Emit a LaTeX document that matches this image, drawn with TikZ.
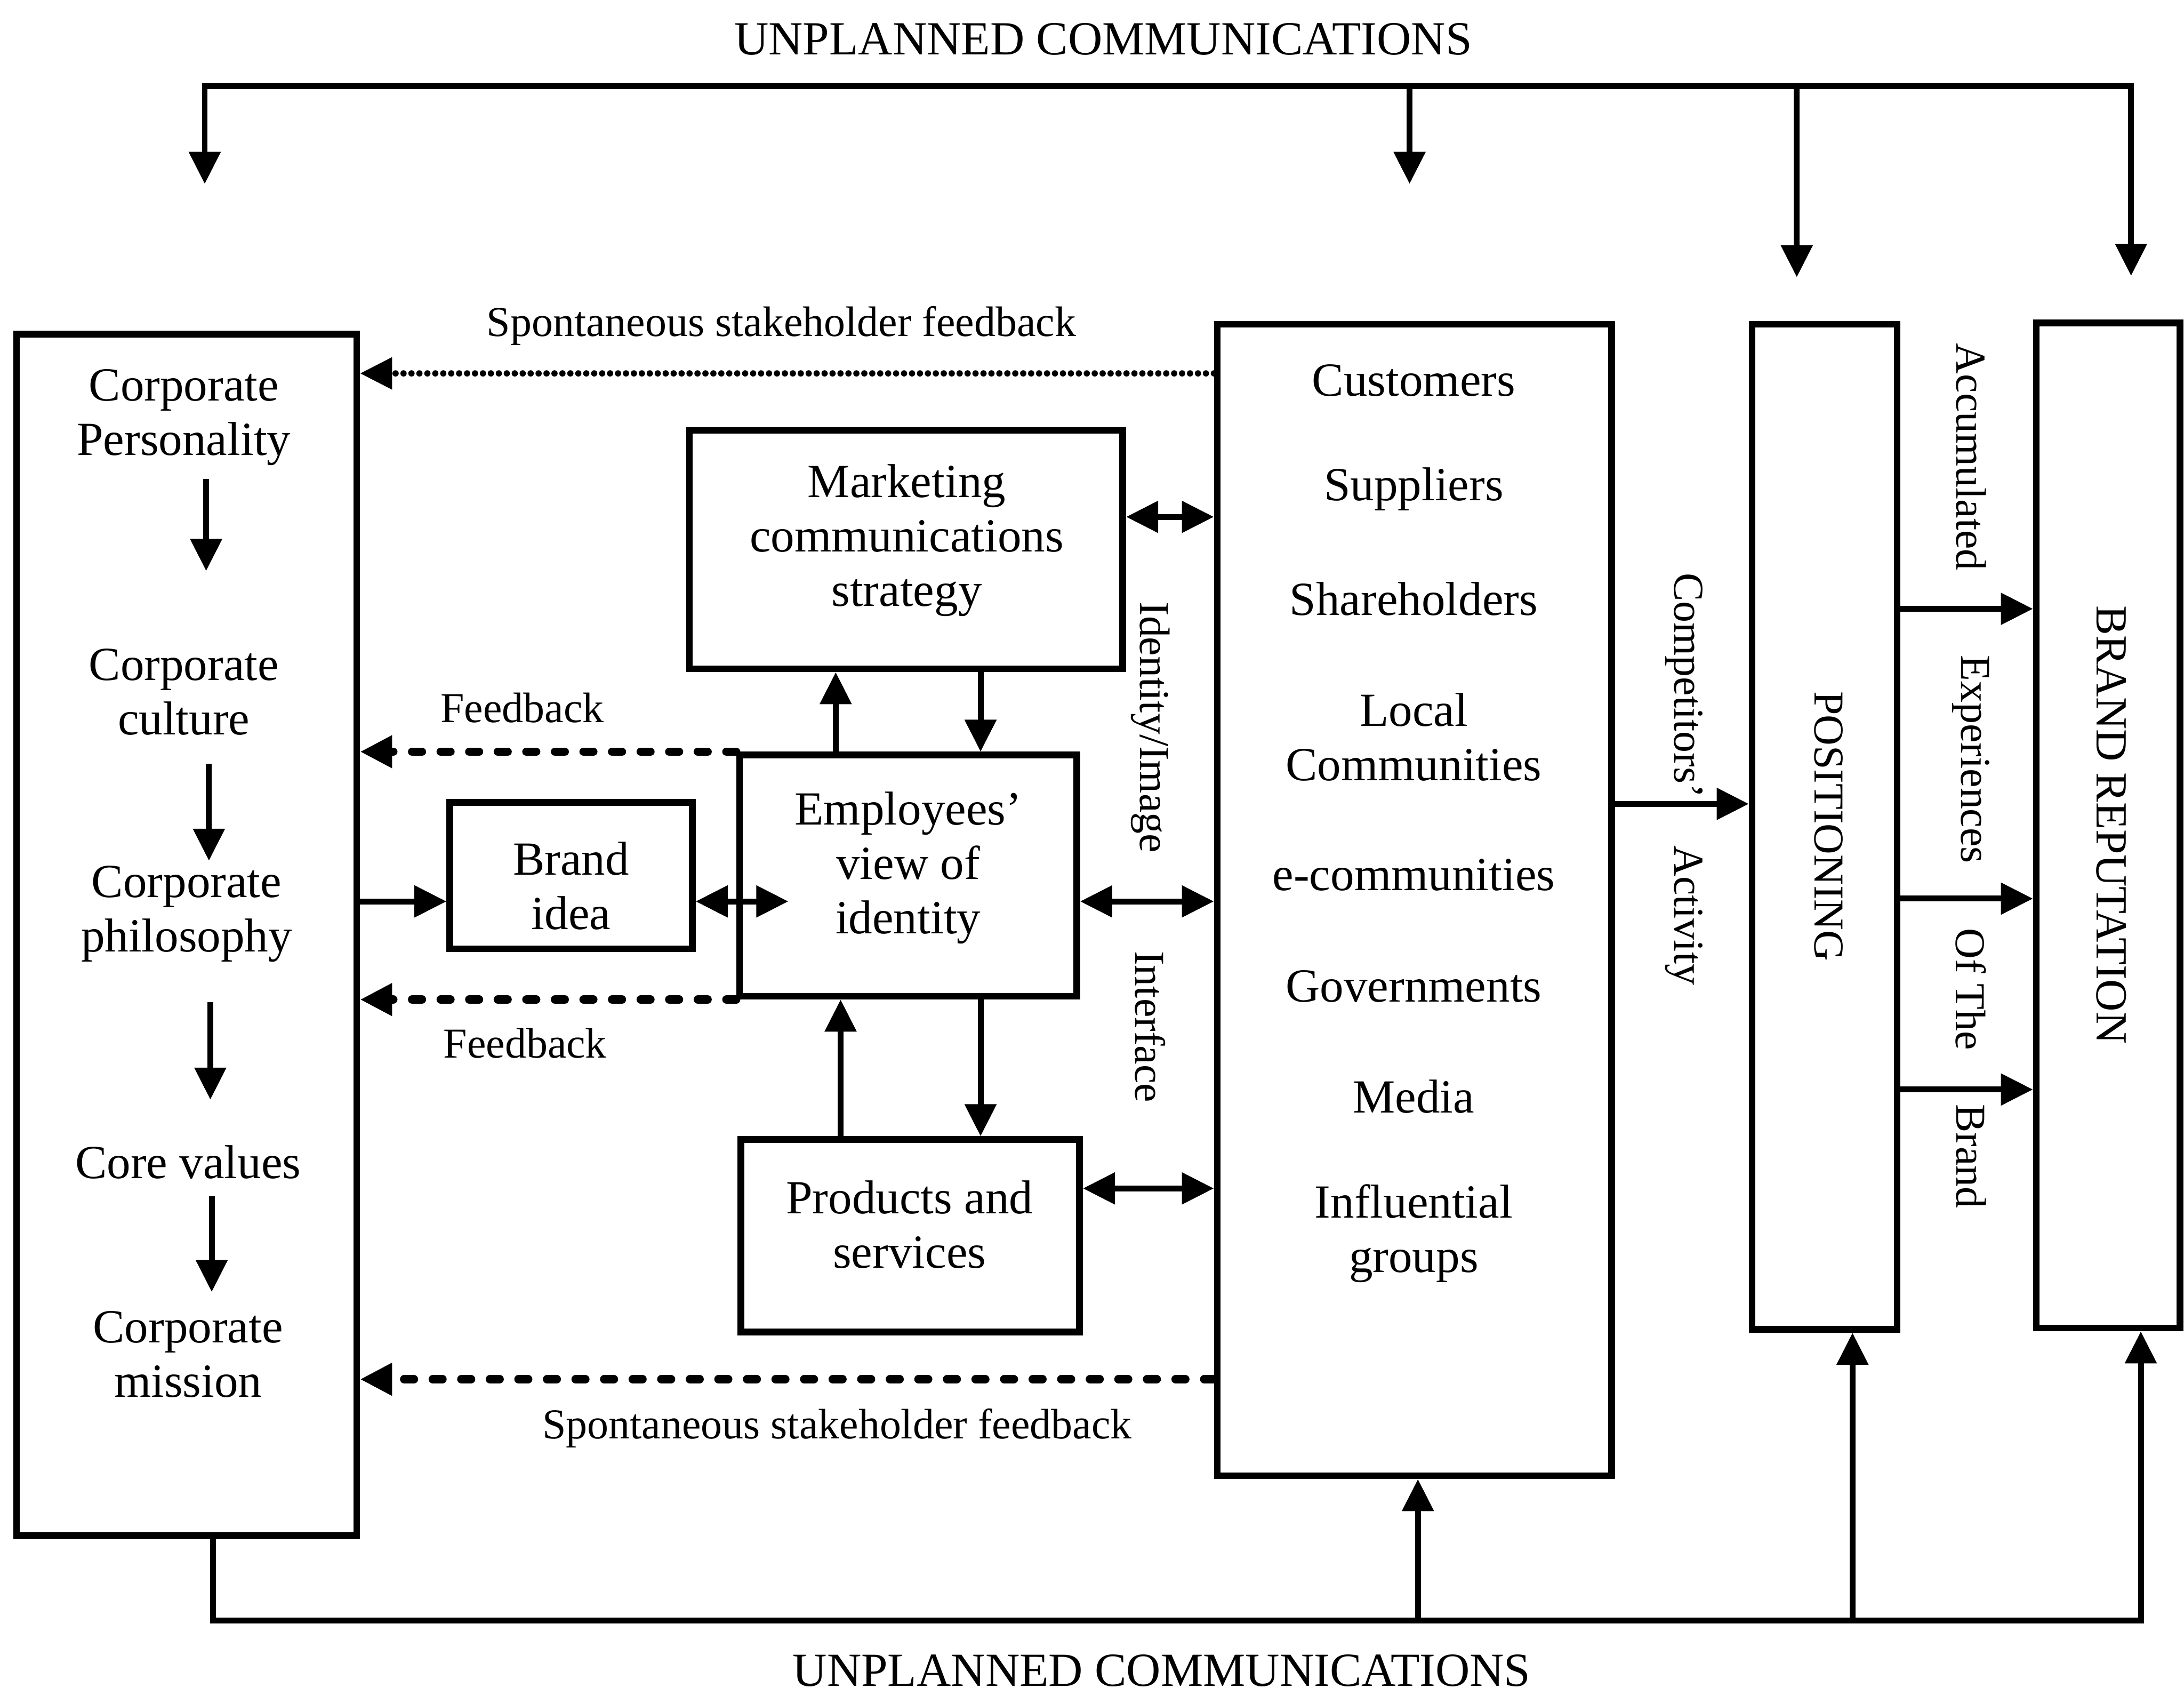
\documentclass[tikz,border=0pt]{standalone}
\usepackage{fontspec}
\setmainfont{Liberation Serif}
\usetikzlibrary{arrows.meta,calc}
\newcommand{\bodysize}{\fontsize{9.7pt}{11.1pt}\selectfont}
\newcommand{\labsize}{\fontsize{8.7pt}{10pt}\selectfont}
\newcommand{\capsize}{\fontsize{9.1pt}{10.5pt}\selectfont}

\begin{document}
\begin{tikzpicture}[x=0.01cm,y=-0.01cm,
  box/.style={draw, line width=0.048cm, inner sep=0pt},
  txt/.style={font=\bodysize, align=center, inner sep=0pt},
  lab/.style={font=\labsize, align=center, inner sep=0pt},
  tip/.tip={Triangle[length=0.23cm,width=0.22cm]},
  line/.style={line width=0.042cm},
  arr/.style={line width=0.042cm, -tip},
  darr/.style={line width=0.042cm, tip-tip},
  dotline/.style={line width=0.045cm, line cap=round, dash pattern=on 0pt off 0.057cm, -tip},
  dashline/.style={line width=0.06cm, line cap=round, dash pattern=on 0.07cm off 0.135cm, -tip}]

\useasboundingbox (0,0) rectangle (1568,1217);

% ---------- boxes ----------
\node[box, minimum width=2.44cm, minimum height=8.62cm] (corp)  at (134,671)    {};
\node[box, minimum width=3.11cm, minimum height=1.71cm] (mkt)   at (650.5,394.5) {};
\node[box, minimum width=2.42cm, minimum height=1.73cm] (emp)   at (652,628.5)  {};
\node[box, minimum width=1.74cm, minimum height=1.05cm] (brand) at (410,628.5)  {};
\node[box, minimum width=2.43cm, minimum height=1.38cm] (prod)  at (653.5,887)  {};
\node[box, minimum width=2.83cm, minimum height=8.26cm] (stake) at (1015.5,646) {};
\node[box, minimum width=1.04cm, minimum height=7.21cm] (pos)   at (1310,593.5) {};
\node[box, minimum width=1.03cm, minimum height=7.21cm] (rep)   at (1513.5,592.5) {};

% ---------- corporate column ----------
\node[txt] (cp)  at (132,299.5) {Corporate\\Personality};
\node[txt] (cc)  at (132,496.5) {Corporate\\culture};
\node[txt] (cph) at (134,656)   {Corporate\\philosophy};
\node[txt] (cv)  at (135,834)   {Core values};
\node[txt] (cm)  at (135,972)   {Corporate\\mission};

\draw[arr] ([shift={(16,9)}]cp.south)   -- ([shift={(16,-55)}]cc.north);
\draw[arr] ([shift={(18,20)}]cc.south)  -- ([shift={(16,-3)}]cph.north);
\draw[arr] ([shift={(17,28)}]cph.south) -- ([shift={(16,-32)}]cv.north);
\draw[arr] ([shift={(17,12)}]cv.south)  -- ([shift={(17,-13)}]cm.north);

% ---------- middle boxes ----------
\node[txt] (mktT)   at (651,388) {Marketing\\communications\\strategy};
\node[txt] (empT)   at (652,623) {Employees’\\view of\\identity};
\node[txt] (brandT) at (410,636) {Brand\\idea};
\node[txt] (prodT)  at (653,879) {Products and\\services};

% ---------- stakeholders ----------
\node[txt] (s1) at (1015,273)   {Customers};
\node[txt] (s2) at (1015,351)   {Suppliers};
\node[txt] (s3) at (1015,430)   {Shareholders};
\node[txt] (s4) at (1015,529)   {Local\\Communities};
\node[txt] (s5) at (1015,628)   {e-communities};
\node[txt] (s6) at (1015,708)   {Governments};
\node[txt] (s7) at (1015,787)   {Media};
\node[txt] (s8) at (1015,885.5) {Influential\\groups};

% ---------- vertical box titles ----------
\node[inner sep=0pt, font=\labsize, rotate=-90] (posT) at (1313,593) {POSITIONING};
\node[inner sep=0pt, font=\capsize, rotate=-90] (repT) at (1516,592) {BRAND REPUTATION};

% ---------- level references ----------
\coordinate (ySpTop) at (0,268);
\coordinate (ySpBot) at (0,990);
\coordinate (yMkt)   at (0,371);
\coordinate (yMid)   at (0,647);
\coordinate (yProd)  at (0,853);
\coordinate (yComp)  at (0,577);
\coordinate (yR1)    at (0,437);
\coordinate (yR2)    at (0,645);
\coordinate (yR3)    at (0,782);
\coordinate (xUp)    at (600,0);
\coordinate (xDown)  at (704,0);
\coordinate (bi)     at (566,647);

% ---------- feedback ----------
\draw[dotline]  (stake.west |- ySpTop) -- (corp.east |- ySpTop);
\draw[dashline] (emp.north west) -- (emp.north west -| corp.east);
\draw[dashline] (emp.south west) -- (emp.south west -| corp.east);
\draw[dashline] (stake.west |- ySpBot) -- (corp.east |- ySpBot);

\node[lab] (lSp1) at (561,234)  {Spontaneous stakeholder feedback};
\node[lab] (lFb1) at (375,508)  {Feedback};
\node[lab] (lFb2) at (377,749)  {Feedback};
\node[lab] (lSp2) at (601,1025) {Spontaneous stakeholder feedback};

% ---------- brand idea / identity links ----------
\draw[arr]  (corp.east |- yMid) -- (brand.west |- yMid);
\draw[darr] (brand.east |- yMid) -- (bi);
\draw[darr] (emp.east |- yMid) -- (stake.west |- yMid);
\draw[darr] (mkt.east |- yMkt) -- (stake.west |- yMkt);
\draw[darr] (prod.east |- yProd) -- (stake.west |- yProd);

\draw[arr] (xUp |- emp.north)   -- (xUp |- mkt.south);
\draw[arr] (xDown |- mkt.south) -- (xDown |- emp.north);
\draw[arr] ([xshift=1]xUp |- prod.north) -- ([xshift=1]xUp |- emp.south);
\draw[arr] (xDown |- emp.south) -- (xDown |- prod.north);

\node[lab, rotate=-90] (lId)  at (826,522) {Identity/Image};
\node[lab, rotate=-90] (lInt) at (826,737) {Interface};

% ---------- positioning and reputation ----------
\draw[arr] (stake.east |- yComp) -- (pos.west |- yComp);
\node[lab, rotate=-90] (lComp) at (1209,492) {Competitors’};
\node[lab, rotate=-90] (lAct)  at (1209,657) {Activity};

\draw[arr] (pos.east |- yR1) -- (rep.west |- yR1);
\draw[arr] (pos.east |- yR2) -- (rep.west |- yR2);
\draw[arr] (pos.east |- yR3) -- (rep.west |- yR3);
\node[lab, rotate=-90] (lAcc) at (1415,328) {Accumulated};
\node[lab, rotate=-90] (lExp) at (1415,545) {Experiences};
\node[lab, rotate=-90] (lOf)  at (1415,710) {Of The};
\node[lab, rotate=-90] (lBr)  at (1415,830) {Brand};

% ---------- unplanned communications, top ----------
\node[txt] (uTop) at (792,28) {UNPLANNED COMMUNICATIONS};
\coordinate (t1) at (147,62);
\coordinate (t2) at (1012,62);
\coordinate (t3) at (1290,62);
\coordinate (t4) at (1530,62);
\coordinate (d1) at (147,132);
\coordinate (d2) at (1012,132);
\coordinate (d3) at (1290,199);
\coordinate (d4) at (1530,198);
\draw[arr] (t2) -- (t1) -- (d1);
\draw[arr] (t2) -- (t4) -- (d4);
\draw[arr] (t2) -- (d2);
\draw[arr] (t3) -- (d3);

% ---------- unplanned communications, bottom ----------
\node[txt] (uBot) at (834,1199) {UNPLANNED COMMUNICATIONS};
\coordinate (b0) at (153,1163);
\coordinate (b1) at (1018,1163);
\coordinate (b2) at (1330,1163);
\coordinate (b3) at (1537,1163);
\draw[arr] (b0 |- corp.south) -- (b0) -- (b3) -- (b3 |- rep.south);
\draw[arr] (b1) -- (b1 |- stake.south);
\draw[arr] (b2) -- (b2 |- pos.south);

\end{tikzpicture}
\end{document}
